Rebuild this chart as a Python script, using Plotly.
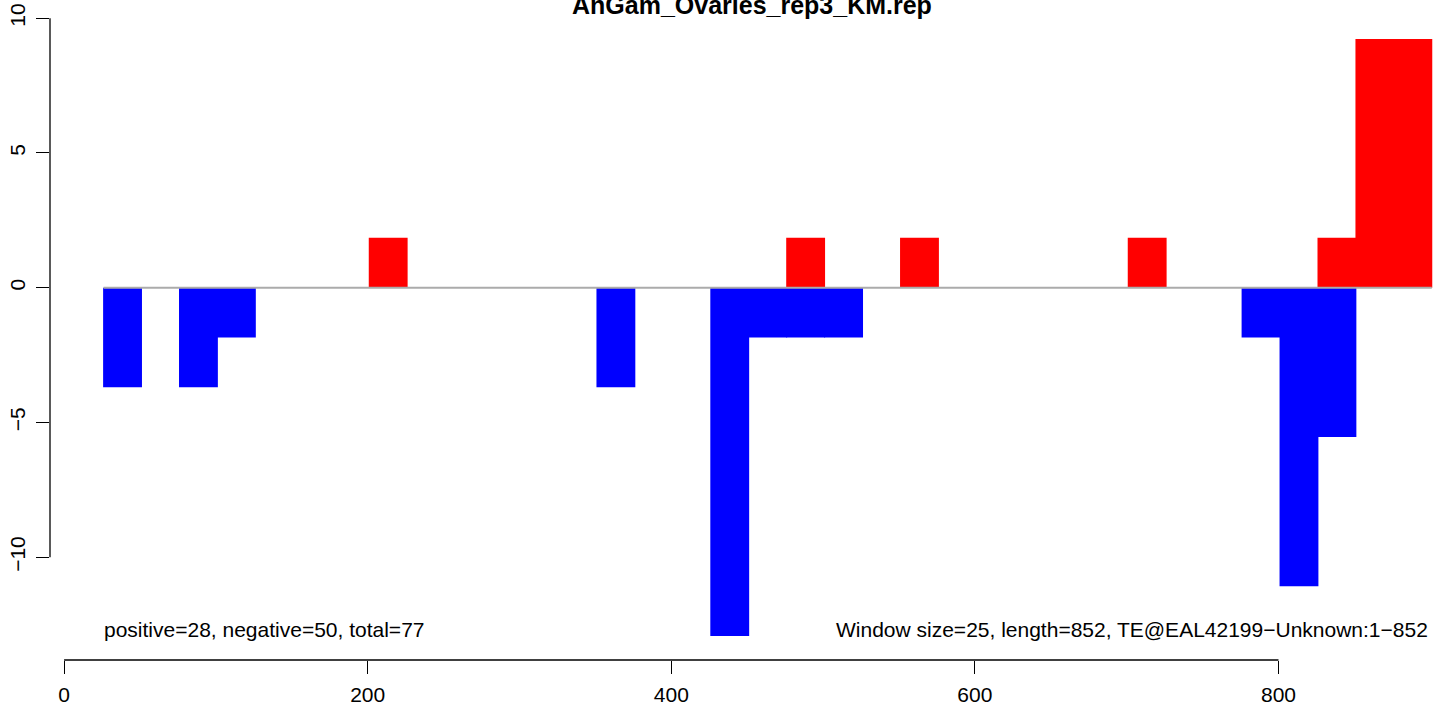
import plotly.graph_objects as go

# ---- data ----
title_text = "AnGam_Ovaries_rep3_KM.rep"
window = 25

neg_starts = [26, 76, 101, 351, 426, 451, 476, 501, 776, 801, 826]
neg_values = [-3.69, -3.69, -1.85, -3.69, -12.92, -1.85, -1.85, -1.85, -1.85, -11.08, -5.54]

pos_starts = [201, 476, 551, 701, 826, 851, 876]
pos_values = [1.85, 1.85, 1.85, 1.85, 1.85, 9.23, 9.23]

x_ticks = [0, 200, 400, 600, 800]
y_ticks = [-10, -5, 0, 5, 10]
y_tick_labels = ["\u221210", "\u22125", "0", "5", "10"]

left_note = "positive=28, negative=50, total=77"
right_note = "Window size=25, length=852, TE@EAL42199\u2212Unknown:1\u2212852"

FONT = "Liberation Sans, Arial, Helvetica, sans-serif"

neg_centers = [s + window / 2 for s in neg_starts]
pos_centers = [s + window / 2 for s in pos_starts]
all_starts = neg_starts + pos_starts
line_x = [min(all_starts), max(all_starts) + window]
bar_w = window + 0.6  # tiny overlap so adjacent windows show no seam

fig = go.Figure()
fig.add_trace(go.Bar(x=neg_centers, y=neg_values, width=bar_w,
                     marker=dict(color="#0000FF", line=dict(width=0)),
                     showlegend=False, hoverinfo="x+y"))
fig.add_trace(go.Bar(x=pos_centers, y=pos_values, width=bar_w,
                     marker=dict(color="#FF0000", line=dict(width=0)),
                     showlegend=False, hoverinfo="x+y"))
fig.add_trace(go.Scatter(x=line_x, y=[0, 0], mode="lines",
                         line=dict(color="#ABABAB", width=2),
                         showlegend=False, hoverinfo="skip"))

fig.update_layout(
    width=1444, height=708,
    margin=dict(l=50, r=4, t=10, b=48, autoexpand=False),
    paper_bgcolor="white", plot_bgcolor="white",
    barmode="overlay",
    font=dict(family=FONT, size=21, color="black"),
    xaxis=dict(range=[-9.29, 906.4], tickvals=x_ticks, automargin=False,
               ticks="outside", ticklen=13, tickwidth=1.3, tickcolor="black",
               showline=False, showgrid=False, zeroline=False,
               ticklabeloverflow="allow",
               tickfont=dict(size=21), ticklabelstandoff=3),
    yaxis=dict(range=[-13.815, 10.304], tickvals=y_ticks, ticktext=y_tick_labels,
               automargin=False,
               ticks="outside", ticklen=13, tickwidth=1.3, tickcolor="black",
               showline=False, showgrid=False, zeroline=False,
               ticklabeloverflow="allow",
               tickangle=-90, tickfont=dict(size=21), ticklabelstandoff=3),
)

# axis lines spanning only the tick range (R style)
fig.add_shape(type="line", xref="paper", x0=0, x1=0, yref="y",
              y0=min(y_ticks), y1=max(y_ticks), line=dict(color="black", width=1.3))
fig.add_shape(type="line", xref="x", x0=min(x_ticks), x1=max(x_ticks), yref="paper",
              y0=0, y1=0, line=dict(color="black", width=1.3))

fig.add_annotation(text="<b>" + title_text + "</b>", xref="paper", yref="paper",
                   x=0.505, y=1, xanchor="center", yanchor="bottom", yshift=-11,
                   showarrow=False, font=dict(size=25, family=FONT))
fig.add_annotation(text=left_note, xref="x", yref="y", x=line_x[0], y=-12.7,
                   xanchor="left", yanchor="middle", showarrow=False, xshift=-2,
                   font=dict(size=21, family=FONT))
fig.add_annotation(text=right_note, xref="x", yref="y", x=line_x[1], y=-12.7,
                   xanchor="right", yanchor="middle", showarrow=False, xshift=-2,
                   font=dict(size=21, family=FONT))

fig.write_html("out.html", config={"displayModeBar": False},
               post_script="document.body.style.margin='0';document.body.style.overflow='hidden';")
